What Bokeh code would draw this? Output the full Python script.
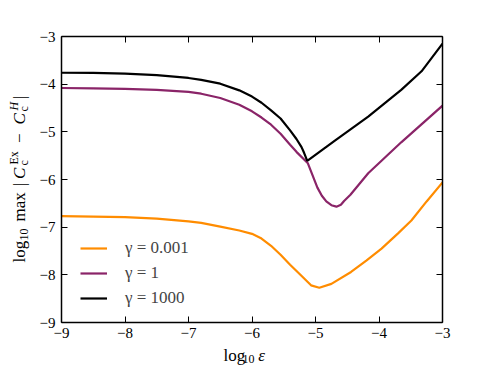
import math
from bokeh.plotting import figure
from bokeh.layouts import row, column
from bokeh.models import FixedTicker, LinearAxis, Legend, LegendItem, Range1d
from bokeh.core.properties import value
from bokeh.embed import file_html
from bokeh.resources import INLINE

# ---- data ----
x_orange = [-9.0, -8.5, -8.0, -7.5, -7.0, -6.8, -6.5, -6.2, -6.0, -5.85, -5.7, -5.55,
            -5.4, -5.23, -5.07, -4.94, -4.75, -4.44, -4.2, -3.96, -3.7, -3.49, -3.25, -3.0]
y_orange = [-6.77, -6.78, -6.79, -6.82, -6.88, -6.91, -6.99, -7.07, -7.14, -7.24, -7.39, -7.58,
            -7.79, -8.01, -8.22, -8.27, -8.19, -7.94, -7.70, -7.45, -7.13, -6.86, -6.46, -6.06]

x_purple = [-9.0, -8.5, -8.0, -7.5, -7.0, -6.8, -6.5, -6.2, -6.0, -5.85, -5.7, -5.55,
            -5.4, -5.3, -5.12, -4.97, -4.9, -4.83, -4.75, -4.67, -4.6, -4.55, -4.45, -4.17,
            -3.65, -3.0]
y_purple = [-4.08, -4.09, -4.10, -4.12, -4.16, -4.20, -4.29, -4.43, -4.57, -4.70, -4.85, -5.04,
            -5.27, -5.42, -5.66, -6.17, -6.34, -6.46, -6.54, -6.57, -6.53, -6.45, -6.32, -5.87,
            -5.22, -4.45]

x_black = [-9.0, -8.5, -8.0, -7.5, -7.0, -6.8, -6.5, -6.2, -6.0, -5.85, -5.7, -5.55,
           -5.4, -5.3, -5.22, -5.18, -5.13, -4.7, -4.17, -3.65, -3.33, -3.0]
y_black = [-3.76, -3.765, -3.78, -3.81, -3.87, -3.91, -3.99, -4.13, -4.26, -4.39, -4.55, -4.72,
           -4.97, -5.15, -5.32, -5.44, -5.61, -5.19, -4.68, -4.12, -3.73, -3.15]

series_labels = ["γ = 0.001", "γ = 1", "γ = 1000"]
series_colors = ["#ff8c00", "#8a2468", "#000000"]

x_ticks = [-9, -8, -7, -6, -5, -4, -3]
y_ticks = [-9, -8, -7, -6, -5, -4, -3]
tick_labels = {t: "\u2212" + str(abs(t)) for t in x_ticks}

FONT = "Liberation Serif"
W_TOTAL, H_TOTAL = 491, 368
W_YLAB = 30
H_MAIN = 343

# ---------------- main plot ----------------
p = figure(width=W_TOTAL - W_YLAB, height=H_MAIN, output_backend="svg", toolbar_location=None,
           x_range=Range1d(-9, -3), y_range=Range1d(-9, -3),
           min_border_left=31, min_border_right=49, min_border_top=36, min_border_bottom=21,
           x_axis_type=None, y_axis_type=None)
p.grid.visible = False
p.outline_line_color = None
p.background_fill_color = "white"
p.border_fill_color = "white"


def style_axis(ax, ticks, show_labels):
    ax.ticker = FixedTicker(ticks=ticks)
    ax.minor_tick_line_color = None
    ax.major_tick_in = 6
    ax.major_tick_out = 0
    ax.major_tick_line_width = 1
    ax.axis_line_width = 1.5
    ax.axis_line_color = "black"
    ax.major_label_text_font = FONT
    ax.major_label_text_font_size = "15px"
    ax.major_label_text_color = "black" if show_labels else None
    ax.major_label_overrides = tick_labels


bottom = LinearAxis()
style_axis(bottom, x_ticks, True)
bottom.major_label_standoff = 5
p.add_layout(bottom, "below")

left = LinearAxis()
style_axis(left, y_ticks, True)
left.major_label_standoff = 6
p.add_layout(left, "left")

top = LinearAxis()
style_axis(top, x_ticks, False)
p.add_layout(top, "above")

right = LinearAxis()
style_axis(right, y_ticks, False)
p.add_layout(right, "right")

r_o = p.line(x_orange, y_orange, line_color=series_colors[0], line_width=2.2)
r_p = p.line(x_purple, y_purple, line_color=series_colors[1], line_width=2.2)
r_b = p.line(x_black, y_black, line_color=series_colors[2], line_width=2.2)

legend = Legend(items=[LegendItem(label=series_labels[0], renderers=[r_o]),
                       LegendItem(label=series_labels[1], renderers=[r_p]),
                       LegendItem(label=series_labels[2], renderers=[r_b])],
                location=(19, 14), padding=0, margin=0, spacing=5,
                glyph_width=27, glyph_height=20, label_height=20, label_standoff=18,
                label_text_font=FONT, label_text_font_size="17px",
                border_line_alpha=0, background_fill_alpha=0)
p.add_layout(legend, "center")


def blank_fig(w, h):
    f = figure(width=w, height=h, output_backend="svg", toolbar_location=None,
               x_range=Range1d(0, w), y_range=Range1d(0, h),
               min_border=0, x_axis_type=None, y_axis_type=None)
    f.grid.visible = False
    f.outline_line_color = None
    f.background_fill_color = "white"
    f.border_fill_color = "white"
    return f


def put(f, txt, x, y, size, angle=0.0, style="normal"):
    f.text(x=[x], y=[y], text=[txt], angle=angle, text_font=value(FONT),
           text_font_size=size, text_font_style=style,
           text_baseline="alphabetic", text_align="left", text_color="black")


# ---------------- y axis label (rotated, composed) ----------------
yl = blank_fig(W_YLAB, H_TOTAL)
A = math.pi / 2
MAIN, SCR = "17px", "12px"
put(yl, "log", 19, 106.0, MAIN, A)
put(yl, "10", 23, 128.0, SCR, A)
put(yl, "max", 19, 147.0, MAIN, A)
put(yl, "|", 19, 182.5, MAIN, A)
put(yl, "C", 19, 189.5, MAIN, A, "italic")
put(yl, "Ex", 13, 204.0, SCR, A)
put(yl, "c", 23, 203.0, SCR, A)
put(yl, "\u2212", 19, 225.5, MAIN, A)
put(yl, "C", 19, 244.0, MAIN, A, "italic")
put(yl, "H", 13, 258.0, SCR, A, "italic")
put(yl, "c", 23, 257.0, SCR, A)
put(yl, "|", 19, 269.5, MAIN, A)

# ---------------- x axis label (composed) ----------------
xl = blank_fig(W_TOTAL - W_YLAB, H_TOTAL - H_MAIN)
put(xl, "log", 196, 13, MAIN)
put(xl, "10", 219, 10, SCR)
put(xl, "ε", 238, 13, MAIN, style="italic")

layout = row(yl, column(p, xl, spacing=0), spacing=0)

open("out.html", "w").write(file_html(layout, INLINE))
